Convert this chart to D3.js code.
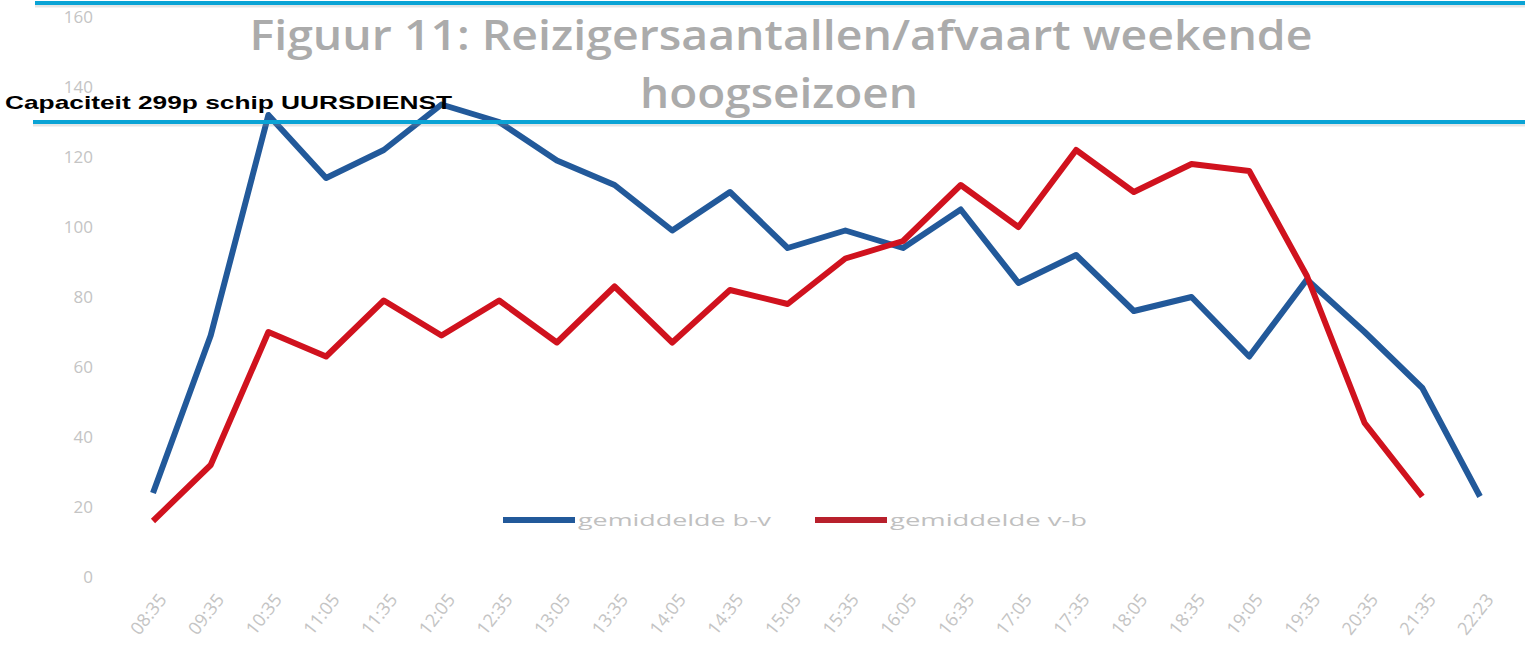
<!DOCTYPE html>
<html>
<head>
<meta charset="utf-8">
<script src="https://cdn.jsdelivr.net/npm/d3@7"></script>
<style>
  body { margin: 0; background: #fff; }
  svg { display: block; }
</style>
</head>
<body>
<div id="chart"></div>
<script>
// tijden van afvaart
var times = ['08:35', '09:35', '10:35', '11:05', '11:35', '12:05', '12:35', '13:05', '13:35', '14:05',
             '14:35', '15:05', '15:35', '16:05', '16:35', '17:05', '17:35', '18:05', '18:35', '19:05',
             '19:35', '20:35', '21:35', '22:23'];

var gemBV = [24, 69, 132, 114, 122, 135, 130, 119, 112, 99, 110, 94, 99, 94, 105, 84, 92, 76, 80, 63, 85, 70, 54, 23];
var gemVB = [16, 32, 70, 63, 79, 69, 79, 67, 83, 67, 82, 78, 91, 96, 112, 100, 122, 110, 118, 116, 86, 44, 23];

var yTicks = [0, 20, 40, 60, 80, 100, 120, 140, 160];

// blauwe lijnen over de grafiek heen (capaciteit)
var capLevels = [164, 130];

var titleLines = ['Figuur 11: Reizigersaantallen/afvaart weekende', 'hoogseizoen'];
var legendNames = ['gemiddelde b-v', 'gemiddelde v-b'];

var width = 1525, height = 666;

var svg = d3.select('#chart')
            .append('svg')
            .attr('width', width)
            .attr('height', height);

var x = d3.scalePoint()
          .domain(times)
          .range([153, 1480]);

var y = d3.scaleLinear()
          .domain([0, 160])
          .range([577, 17]);

// Titel
svg.append('text')
    .attr('x', 781).attr('y', 50)
    .attr('text-anchor', 'middle')
    .attr('textLength', 1063)
    .attr('lengthAdjust', 'spacingAndGlyphs')
    .style('font-family', '"Open Sans", sans-serif')
    .style('font-weight', '600')
    .style('font-size', '42px')
    .style('fill', '#ababab')
    .text(titleLines[0]);

svg.append('text')
    .attr('x', 779).attr('y', 108)
    .attr('text-anchor', 'middle')
    .attr('textLength', 278)
    .attr('lengthAdjust', 'spacingAndGlyphs')
    .style('font-family', '"Open Sans", sans-serif')
    .style('font-weight', '600')
    .style('font-size', '42px')
    .style('fill', '#ababab')
    .text(titleLines[1]);

// Y as
var yAxis = svg.append('g')
    .attr('transform', 'translate(100,0)')
    .call(d3.axisLeft(y).tickValues(yTicks).tickSize(0).tickPadding(7));
yAxis.select('.domain').remove();
yAxis.selectAll('text')
    .style('font-family', '"Open Sans", sans-serif')
    .style('font-size', '17px')
    .style('fill', '#c4c4c4');

// X as
var xAxis = svg.append('g')
    .attr('transform', 'translate(0,583)')
    .call(d3.axisBottom(x).tickSize(0).tickPadding(0));
xAxis.select('.domain').remove();
xAxis.selectAll('text')
    .attr('text-anchor', 'end')
    .attr('dy', 0)
    .attr('transform', 'translate(14,17) rotate(-52)')
    .style('font-family', '"Open Sans", sans-serif')
    .style('font-size', '18px')
    .style('fill', '#c4c4c4');

// Lijnen
var line = d3.line()
    .x(function (d, i) { return x(times[i]); })
    .y(function (d) { return y(d); });

svg.append('path')
    .datum(gemBV)
    .attr('d', line)
    .style('fill', 'none')
    .style('stroke', '#22599a')
    .style('stroke-width', 6)
    .style('stroke-linejoin', 'round');

svg.append('path')
    .datum(gemVB)
    .attr('d', line)
    .style('fill', 'none')
    .style('stroke', '#d0121e')
    .style('stroke-width', 6)
    .style('stroke-linejoin', 'round');

// Legenda
var legendColors = ['#22599a', '#b8202c'];
var legendX = [503, 815];
var legendTextLen = [193, 197];
legendNames.forEach(function (name, i) {
    svg.append('line')
        .attr('x1', legendX[i]).attr('x2', legendX[i] + 72)
        .attr('y1', 520).attr('y2', 520)
        .style('stroke', legendColors[i])
        .style('stroke-width', 6);
    svg.append('text')
        .attr('x', legendX[i] + 75).attr('y', 526)
        .attr('textLength', legendTextLen[i])
        .attr('lengthAdjust', 'spacingAndGlyphs')
        .style('font-family', '"Open Sans", sans-serif')
        .style('font-size', '17px')
        .style('fill', '#c0c0c0')
        .text(name);
});

// Capaciteitslijnen
var capX = [35, 33];
capLevels.forEach(function (lvl, i) {
    svg.append('line')
        .attr('x1', capX[i]).attr('x2', width)
        .attr('y1', y(lvl) + 3).attr('y2', y(lvl) + 3)
        .style('stroke', '#999')
        .style('stroke-opacity', 0.25)
        .style('stroke-width', 3);
    svg.append('line')
        .attr('x1', capX[i]).attr('x2', width)
        .attr('y1', y(lvl)).attr('y2', y(lvl))
        .style('stroke', '#0aa3d5')
        .style('stroke-width', 4);
});

svg.append('text')
    .attr('x', 5).attr('y', 109)
    .attr('textLength', 447)
    .attr('lengthAdjust', 'spacingAndGlyphs')
    .style('font-family', '"Liberation Sans", Arial, sans-serif')
    .style('font-weight', 'bold')
    .style('font-size', '19px')
    .style('fill', '#000')
    .text('Capaciteit 299p schip UURSDIENST');
</script>
</body>
</html>
